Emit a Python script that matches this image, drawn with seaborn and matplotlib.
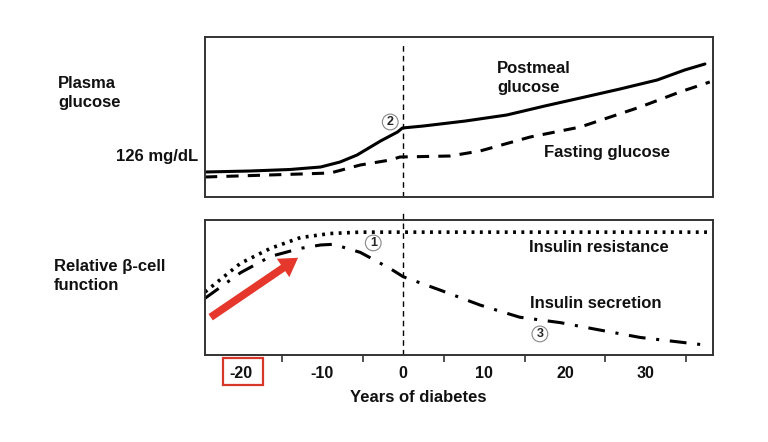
import numpy as np
import pandas as pd
import seaborn as sns
import matplotlib.pyplot as plt
from matplotlib.patches import Rectangle

# years relative to diagnosis
post_years = [-24.5, -18.9, -14.0, -10.2, -7.8, -5.7, -2.8, -0.7, -0.1, 2.5, 7.7, 12.8, 17.5, 21.9, 26.8, 31.4, 34.8, 37.3]
post_glucose = [110, 111, 112.5, 115, 120, 127, 141, 150, 154, 156, 161, 167, 176, 184, 193, 202, 212, 218]

fast_years = [-24.5, -12.7, -9.0, -5.3, -1.6, -0.4, 5.8, 9.5, 15.7, 21.9, 29.3, 34.2, 37.9]
fast_glucose = [105, 108, 109, 117, 122, 125, 126, 131, 145, 155, 175, 190, 200]

resist_years = [-24.5, -20.1, -16.4, -12.7, -9.0, -5.3, -0.4, 38.3]
resist_vals = [46.7, 68, 79, 87, 90, 91, 91, 91]

secr_years = [-24.5, -20.1, -16.4, -12.7, -10.2, -8.6, -5.3, -1.6, 0, 4.6, 9.5, 14.4, 19.4, 24.3, 29.3, 37.3]
secr_vals = [42, 61, 73, 79, 81.5, 82, 76, 64, 58, 48, 37, 28, 24, 18.5, 13, 7.4]

tick_years = [-20, -10, 0, 10, 20, 30]
minor_years = [-15, -5, 5, 15, 25, 35]

sns.set_theme(style='white')
plt.rcParams['font.family'] = ['Liberation Sans', 'DejaVu Sans']

W, H = 768, 442
fig = plt.figure(figsize=(W / 100, H / 100), dpi=100)

def fx(px):
    return px / W

def fy(py):
    return 1 - py / H

ax1 = fig.add_axes([fx(205), fy(197), fx(713) - fx(205), fy(37) - fy(197)])
ax2 = fig.add_axes([fx(205), fy(355), fx(713) - fx(205), fy(220) - fy(355)])

xlim = (-24.5, 38.3)
for ax in (ax1, ax2):
    ax.set_xlim(*xlim)
    for s in ax.spines.values():
        s.set_color('#333333')
        s.set_linewidth(1.4)
    ax.set_xlabel('')
    ax.set_ylabel('')

# top panel
sns.lineplot(x=post_years, y=post_glucose, ax=ax1, color='black', lw=2.2)
sns.lineplot(x=fast_years, y=fast_glucose, ax=ax1, color='black', lw=2.2, linestyle=(0, (4, 3)))
ax1.set_ylim(85, 245)
ax1.set_xticks([])
ax1.set_yticks([])
ax1.axvline(0, ymin=0, ymax=0.97, color='black', lw=1, linestyle=(0, (4, 3)))

# bottom panel
sns.lineplot(x=resist_years, y=resist_vals, ax=ax2, color='black', lw=2.6, linestyle=(0, (0.8, 1.5)))
sns.lineplot(x=secr_years, y=secr_vals, ax=ax2, color='black', lw=2.2, linestyle=(0, (5.5, 3.5, 1, 3.5)))
ax2.set_ylim(0, 100)
ax2.set_yticks([])
ax2.axvline(0, ymin=0, ymax=1.05, color='black', lw=1, linestyle=(0, (4, 3)), clip_on=False)

ax2.set_xticks(tick_years)
ax2.set_xticklabels([str(t) for t in tick_years], fontsize=11.5, fontweight='bold', color='#111111')
ax2.set_xticks(minor_years, minor=True)
ax2.tick_params(axis='x', which='major', length=0, pad=8)
ax2.tick_params(axis='x', which='minor', bottom=True, length=5, width=1.2, color='#333333', direction='out')

# red arrow
ax2.annotate('', xy=(-13, 72), xytext=(-23.8, 28),
             arrowprops=dict(facecolor='#e5372b', edgecolor='none', width=5.5, headwidth=16, headlength=13))

# circled markers
circ = dict(boxstyle='circle,pad=0.15', fc='white', ec='#888888', lw=0.8)
ax1.text(-1.6, 160, '2', fontsize=9, fontweight='bold', ha='center', va='center', bbox=circ)
ax2.text(-3.7, 83, '1', fontsize=9, fontweight='bold', ha='center', va='center', bbox=circ)
ax2.text(16.9, 15.6, '3', fontsize=9, fontweight='bold', ha='center', va='center', bbox=circ)

# labels
tkw = dict(fontsize=12, fontweight='bold', color='#111111')
fig.text(fx(58), fy(93), 'Plasma\nglucose', ha='left', va='center', linespacing=1.3, **tkw)
fig.text(fx(198), fy(156), '126 mg/dL', ha='right', va='center', **tkw)
fig.text(fx(497), fy(78), 'Postmeal\nglucose', ha='left', va='center', linespacing=1.3, **tkw)
fig.text(fx(544), fy(153), 'Fasting glucose', ha='left', va='center', **tkw)
fig.text(fx(529), fy(248), 'Insulin resistance', ha='left', va='center', **tkw)
fig.text(fx(530), fy(304), 'Insulin secretion', ha='left', va='center', **tkw)
fig.text(fx(54), fy(276), 'Relative β-cell\nfunction', ha='left', va='center', linespacing=1.3, **tkw)
fig.text(fx(418), fy(398), 'Years of diabetes', ha='center', va='center', **tkw)

# red box around -20
fig.add_artist(Rectangle((fx(223), fy(385)), fx(263) - fx(223), fy(358) - fy(385),
                         transform=fig.transFigure, fill=False, ec='#d9362b', lw=1.6))

fig.savefig('out.png', dpi=100)
